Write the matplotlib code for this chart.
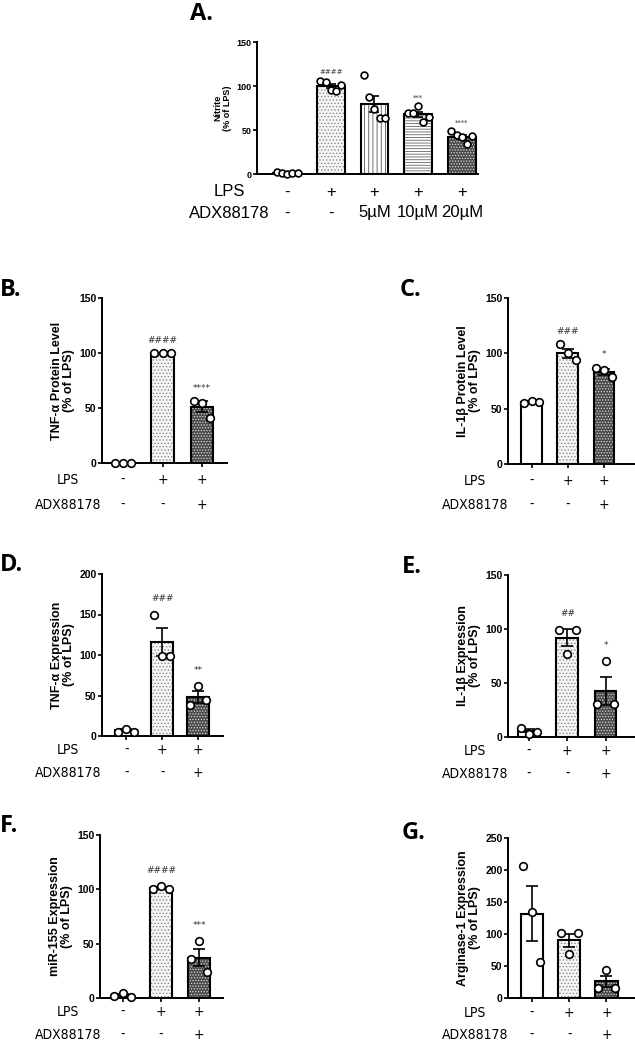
import matplotlib
matplotlib.use('Agg')
import matplotlib.pyplot as plt
import matplotlib.transforms as mtransforms
import numpy as np

# ---- data ----
# A. Nitrite
a_lps = ['-', '+', '+', '+', '+']
a_adx = ['-', '-', '5µM', '10µM', '20µM']
a_means = [1, 100, 80, 68, 42]
a_sems = [0.5, 2, 9, 3, 2.5]
a_points = [[2, 1, 0, 1, 1], [106, 105, 95, 94, 101], [113, 87, 74, 64, 64],
            [69, 69, 77, 59, 65], [49, 44, 42, 34, 43]]
a_marks = ['', '####', '', '***', '****']

lps3 = ['-', '+', '+']
adx3 = ['-', '-', '+']

b_means = [0, 100, 51]
b_sems = [0, 0, 5]
b_points = [[0, 0, 0], [100, 100, 100], [56, 55, 41]]
b_marks = ['', '####', '****']

c_means = [56, 100, 83]
c_sems = [0.5, 4, 2.5]
c_points = [[55, 57, 56], [108, 100, 94], [87, 85, 79]]
c_marks = ['', '###', '*']

d_means = [7, 116, 48]
d_sems = [1.5, 17, 7]
d_points = [[5, 9, 5], [150, 99, 99], [38, 62, 45]]
d_marks = ['', '###', '**']

e_means = [6, 92, 43]
e_sems = [1.5, 8, 13]
e_points = [[8, 3, 5], [99, 77, 99], [31, 70, 31]]
e_marks = ['', '##', '*']

f_means = [2.5, 101, 37]
f_sems = [1, 1, 8]
f_points = [[2, 5, 1], [100, 103, 100], [36, 52, 24]]
f_marks = ['', '####', '***']

g_means = [132, 90, 26]
g_sems = [43, 10, 9]
g_points = [[206, 135, 56], [101, 68, 101], [16, 44, 16]]
g_marks = ['', '', '']

W, H = 635, 1050
fig = plt.figure(figsize=(W / 100, H / 100), dpi=100)
plt.rcParams['hatch.linewidth'] = 0.6

BOLD = ['Liberation Sans', 'DejaVu Sans']

# bar styles: (facecolor, hatch, hatch colour)
STYLES = {
    'ctrl': ('white', None, 'black'),
    'lps': ('#f6f6f6', '.....', '#8a8a8a'),
    'vert': ('white', '||||', '#555555'),
    'horz': ('white', '------', '#666666'),
    'dark': ('#4a4a4a', '......', '#d8d8d8'),
}


def px_axes(left, right, top, bottom):
    return fig.add_axes([left / W, 1 - bottom / H, (right - left) / W, (bottom - top) / H])


def panel(box, means, sems, points, marks, styles, ymax, ystep, xlim, width,
          ylabel, tick_fs, lab_fs, ms, mark_fs, pad, cap=4):
    ax = px_axes(*box)
    x = np.arange(len(means))
    for i in x:
        fc, hatch, hc = STYLES[styles[i]]
        ax.bar(i, means[i], width, color=fc, edgecolor=hc, hatch=hatch,
               linewidth=0, zorder=2)
        ax.bar(i, means[i], width, fill=False, edgecolor='black',
               linewidth=1.5, zorder=3)
    ax.errorbar(x, means, yerr=sems, fmt='none', ecolor='black',
                elinewidth=1.2, capsize=cap, capthick=1.2, zorder=4)
    for i, pts in enumerate(points):
        n = len(pts)
        offs = np.linspace(-width * 0.38, width * 0.38, n)
        ax.scatter(i + offs, pts, s=ms, facecolor='white', edgecolor='black',
                   linewidth=1.2, zorder=5, clip_on=False)
        if marks[i]:
            top = max(max(pts), means[i] + sems[i])
            ax.annotate(marks[i], (i, top), xytext=(0, pad),
                        textcoords='offset points', ha='center', va='bottom',
                        fontsize=mark_fs, color='#333333', zorder=6)
    ax.set_xlim(*xlim)
    ax.set_ylim(0, ymax)
    ax.set_yticks(np.arange(0, ymax + 1, ystep))
    ax.set_xticks(x)
    ax.set_xticklabels([])
    for s in ['top', 'right']:
        ax.spines[s].set_visible(False)
    for s in ['left', 'bottom']:
        ax.spines[s].set_linewidth(1.4)
    ax.tick_params(axis='y', length=3, width=1.2, labelsize=tick_fs, pad=1)
    ax.tick_params(axis='x', length=3, width=1.2)
    for t in ax.get_yticklabels():
        t.set_fontweight('bold')
        t.set_family(BOLD)
    ax.set_ylabel(ylabel, fontsize=lab_fs, fontweight='bold', family=BOLD,
                  linespacing=1.05, labelpad=3)
    ax.patch.set_alpha(0)
    return ax


def rows(ax, labels_x, rows_y, lps, adx, fs, family, stretch='normal'):
    tr = mtransforms.blended_transform_factory(ax.transData, fig.transFigure)
    for row_y, name, vals in [(rows_y[0], 'LPS', lps), (rows_y[1], 'ADX88178', adx)]:
        fig.text(labels_x / W, 1 - row_y / H, name, ha='center', va='center',
                 fontsize=fs, family=family, fontstretch=stretch)
        for i, v in enumerate(vals):
            ax.text(i, 1 - row_y / H, v, transform=tr, ha='center', va='center',
                    fontsize=fs, family=family, fontstretch=stretch)


def letter(x, y, s, fs=17):
    fig.text(x / W, 1 - y / H, s, fontsize=fs, fontweight='bold',
             family=['Open Sans', 'DejaVu Sans'], ha='left', va='center')


NARROW = ['DejaVu Sans']

# A
axA = panel((257, 478, 42, 174), a_means, a_sems, a_points, a_marks,
            ['ctrl', 'lps', 'vert', 'horz', 'dark'], 150, 50, (-0.69, 4.37), 0.64,
            'Nitrite\n(% of LPS)', 6.5, 6.5, 24, 5, 4, cap=3.5)
axA.tick_params(axis='x', length=0)
rows(axA, 229, (192, 213), a_lps, a_adx, 12, ['Liberation Sans', 'DejaVu Sans'])
letter(190, 14, 'A.')

# B
axB = panel((102, 227, 298, 463), b_means, b_sems, b_points, b_marks,
            ['ctrl', 'lps', 'dark'], 150, 50, (-0.53, 2.63), 0.56,
            'TNF-α Protein Level\n(% of LPS)', 7.5, 9, 30, 6.5, 6)
rows(axB, 68, (480, 505), lps3, adx3, 10, NARROW, 'condensed')
letter(0, 290, 'B.')

# C
axC = panel((508, 640, 298, 464), c_means, c_sems, c_points, c_marks,
            ['ctrl', 'lps', 'dark'], 150, 50, (-0.65, 3.0), 0.57,
            'IL-1β Protein Level\n(% of LPS)', 7.5, 9, 30, 6.5, 6)
rows(axC, 475, (481, 505), lps3, adx3, 10, NARROW, 'condensed')
letter(400, 290, 'C.')

# D
axD = panel((102, 223, 574, 736), d_means, d_sems, d_points, d_marks,
            ['ctrl', 'lps', 'dark'], 200, 50, (-0.67, 2.69), 0.6,
            'TNF-α Expression\n(% of LPS)', 7.5, 9, 30, 6.5, 8)
rows(axD, 68, (750, 773), lps3, adx3, 10, NARROW, 'condensed')
letter(0, 565, 'D.')

# E
axE = panel((508, 640, 575, 737), e_means, e_sems, e_points, e_marks,
            ['ctrl', 'lps', 'dark'], 150, 50, (-0.55, 2.9), 0.57,
            'IL-1β Expression\n(% of LPS)', 7.5, 9, 30, 6.5, 8)
rows(axE, 475, (751, 774), lps3, adx3, 10, NARROW, 'condensed')
letter(402, 567, 'E.')

# F
axF = panel((100, 223, 835, 998), f_means, f_sems, f_points, f_marks,
            ['ctrl', 'lps', 'dark'], 150, 50, (-0.6, 2.63), 0.58,
            'miR-155 Expression\n(% of LPS)', 7.5, 9, 30, 6.5, 8)
rows(axF, 68, (1012, 1035), lps3, adx3, 10, NARROW, 'condensed')
letter(0, 826, 'F.')

# G
axG = panel((508, 640, 838, 998), g_means, g_sems, g_points, g_marks,
            ['ctrl', 'lps', 'dark'], 250, 50, (-0.64, 2.9), 0.6,
            'Arginase-1 Expression\n(% of LPS)', 7.5, 9, 30, 6.5, 6)
rows(axG, 475, (1013, 1035), lps3, adx3, 10, NARROW, 'condensed')
letter(402, 833, 'G.')

fig.savefig('out.png', dpi=100)
